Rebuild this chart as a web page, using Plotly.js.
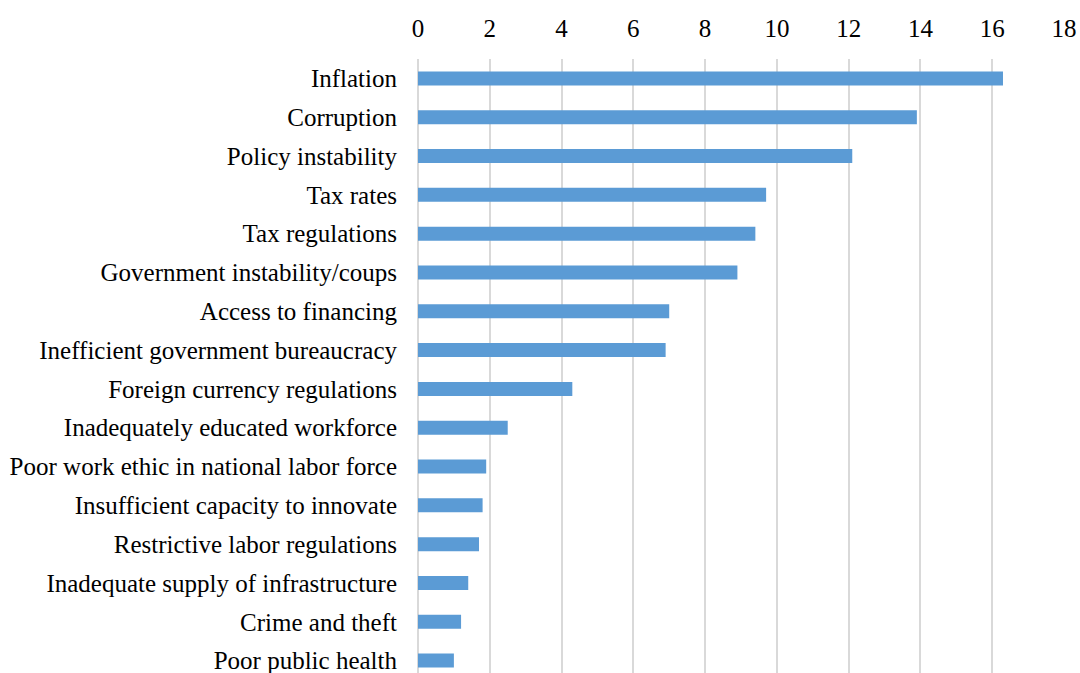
<!DOCTYPE html>
<html>
<head>
<meta charset="utf-8">
<script src="https://cdn.plot.ly/plotly-3.0.1.min.js"></script>
<style>html,body{margin:0;padding:0;background:#fff;}#chart{width:1080px;height:673px;}</style>
</head>
<body>
<div id="chart"></div>
<script>
const categories = [
  "Inflation",
  "Corruption",
  "Policy instability",
  "Tax rates",
  "Tax regulations",
  "Government instability/coups",
  "Access to financing",
  "Inefficient government bureaucracy",
  "Foreign currency regulations",
  "Inadequately educated workforce",
  "Poor work ethic in national labor force",
  "Insufficient capacity to innovate",
  "Restrictive labor regulations",
  "Inadequate supply of infrastructure",
  "Crime and theft",
  "Poor public health"
];
const values = [16.3, 13.9, 12.1, 9.7, 9.4, 8.9, 7.0, 6.9, 4.3, 2.5, 1.9, 1.8, 1.7, 1.4, 1.2, 1.0];
const xTicks = [0, 2, 4, 6, 8, 10, 12, 14, 16, 18];

const trace = {
  type: 'bar',
  orientation: 'h',
  x: values,
  y: categories,
  marker: {color: '#5b9bd5'},
  width: 0.36,
  hoverinfo: 'x+y'
};

const FONT = 'Liberation Serif, Times New Roman, serif';

const layout = {
  width: 1080,
  height: 673,
  margin: {l: 418, r: 16, t: 59, b: 0, pad: 0},
  paper_bgcolor: '#ffffff',
  plot_bgcolor: '#ffffff',
  font: {family: FONT, size: 25, color: '#000000'},
  showlegend: false,
  xaxis: {
    side: 'top',
    range: [0, 18],
    tickvals: xTicks,
    ticktext: xTicks.map(String),
    showgrid: true,
    gridcolor: '#d9d9d9',
    gridwidth: 2,
    zeroline: true,
    zerolinecolor: '#d9d9d9',
    zerolinewidth: 2,
    showline: false,
    ticks: '',
    ticklabelstandoff: 16,
    tickfont: {family: FONT, size: 25, color: '#000000'}
  },
  yaxis: {
    type: 'category',
    range: [15.32, -0.5],
    showgrid: false,
    zeroline: false,
    showline: false,
    ticks: '',
    ticklabelstandoff: 20,
    tickfont: {family: FONT, size: 25, color: '#000000'}
  }
};

Plotly.newPlot('chart', [trace], layout, {displayModeBar: false, staticPlot: true});
</script>
</body>
</html>
